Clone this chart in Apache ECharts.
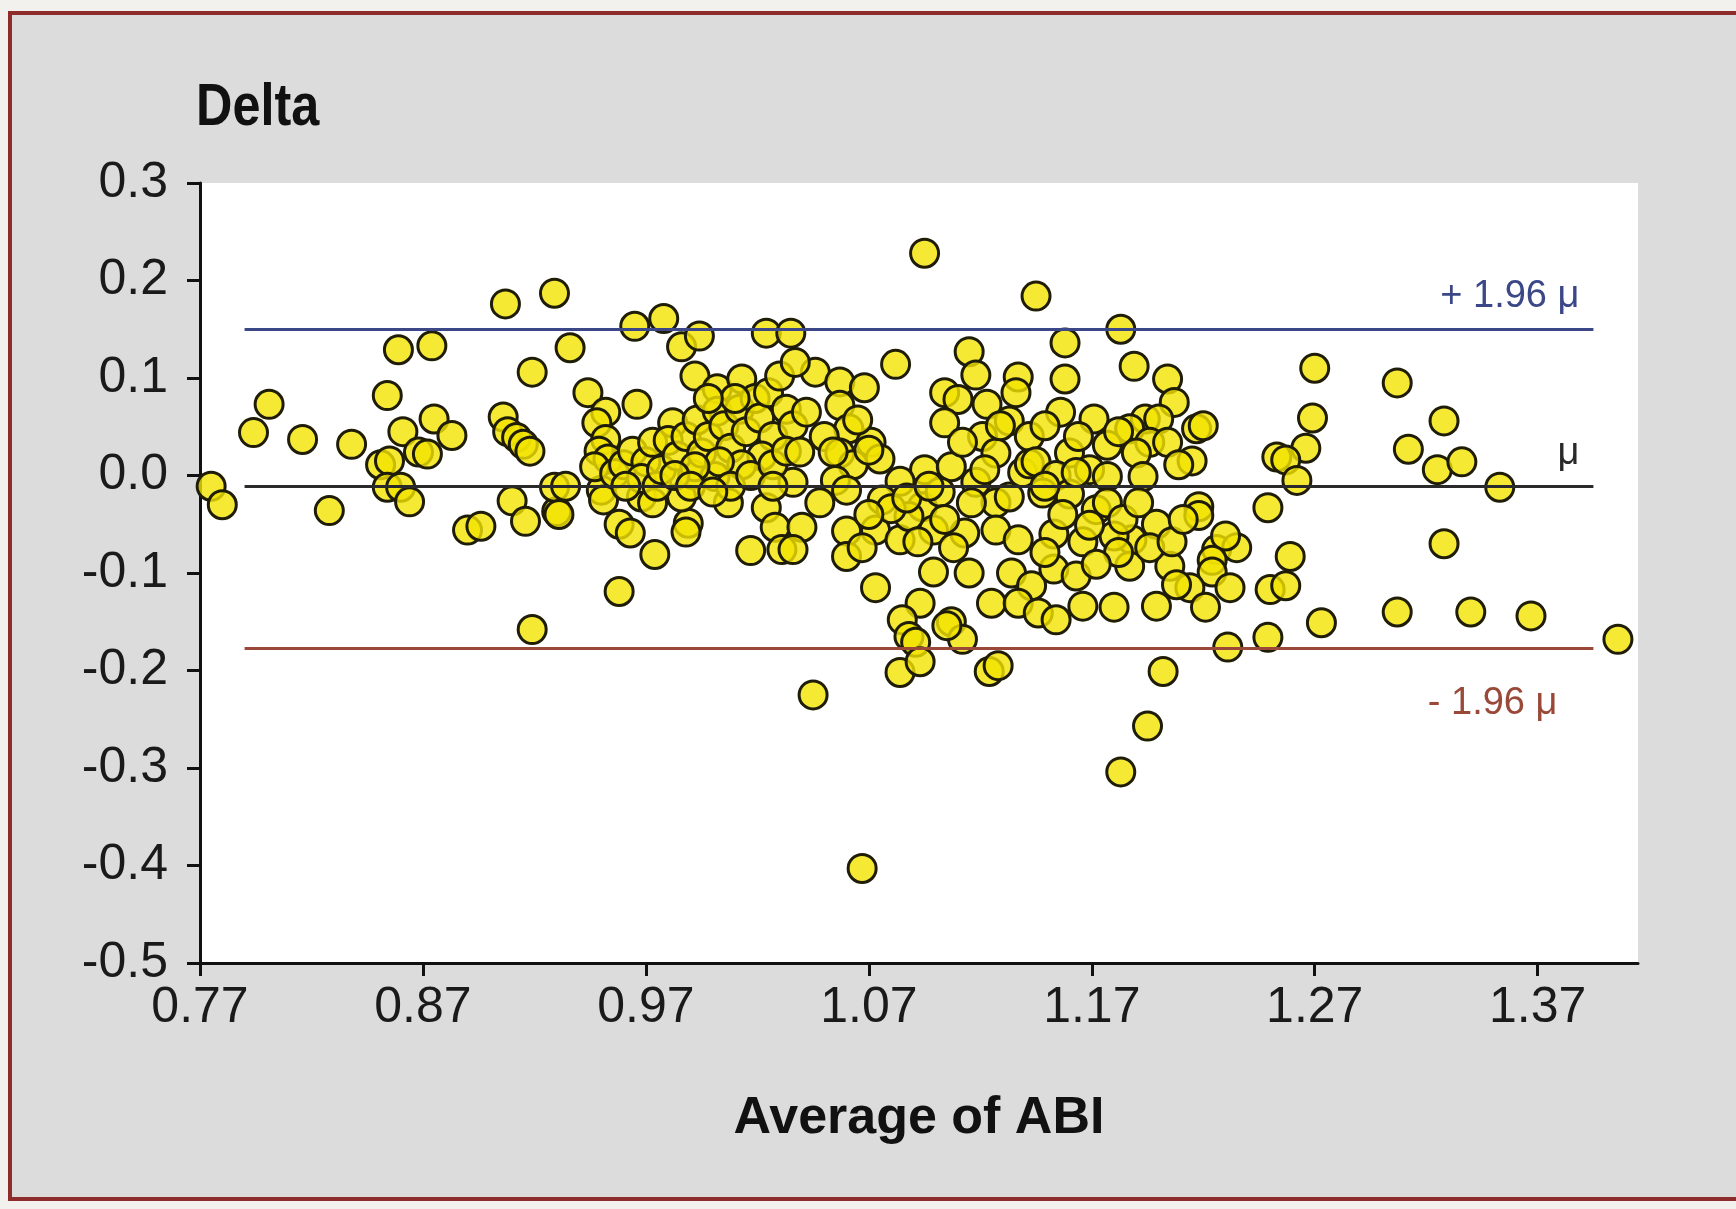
<!DOCTYPE html>
<html>
<head>
<meta charset="utf-8">
<title>Delta vs Average of ABI</title>
<script src="https://cdn.jsdelivr.net/npm/echarts/dist/echarts.min.js"></script>
<style>
  html, body { margin: 0; padding: 0; overflow: hidden; background: #f3f1ee; }
  #frame {
    position: absolute; left: 8px; top: 11px;
    width: 1800px; height: 1182px;
    border: 4px solid #8e2b2b; background: #dcdcdc;
  }
  #chart { position: absolute; left: 0; top: 0; width: 1736px; height: 1209px; }
</style>
</head>
<body>
<div id="frame"></div>
<div id="chart"></div>
<script>
// average of the two ABI measurements (x) and their difference (y)
const abiAverage = [
  0.775, 0.780, 0.794, 0.801, 0.816, 0.828, 0.838, 0.854, 0.859, 0.874,
  0.851, 0.855, 0.861, 0.875, 0.883, 0.868, 0.872, 0.854, 0.860, 0.864,
  0.907, 0.919, 0.929, 0.906, 0.908, 0.912, 0.915, 0.918, 0.910, 0.916,
  0.890, 0.896, 0.930, 0.919, 0.929,
  0.936, 0.965, 0.978, 0.986, 0.994, 0.992, 1.002, 1.013, 1.024, 1.035,
  0.944, 0.966, 0.952, 0.982,
  0.934, 0.931, 0.958, 0.963, 0.974, 0.958, 0.989, 0.988, 1.007, 1.024,
  1.028, 1.031, 1.017, 0.950, 0.951, 0.968, 0.973, 0.986, 0.991, 1.001, 1.036,
  0.948, 0.952, 0.949, 0.953, 0.947, 0.956, 0.960, 0.964, 0.970, 0.968,
  0.975, 0.961, 0.977, 0.973,
  0.980, 0.984, 0.988, 0.993, 0.995, 0.998, 1.002, 1.005, 1.008, 1.012,
  1.015, 1.019, 1.021, 1.025, 1.027, 1.030, 1.033, 1.036, 1.022, 1.013,
  1.003, 0.992, 0.983, 1.008, 1.017, 1.027, 1.033, 0.990, 1.000, 1.027,
  1.010, 0.998,
  1.095, 1.145, 1.082, 1.115, 1.118, 1.104, 1.110, 1.104, 1.123, 1.137,
  1.136, 1.133, 1.142, 1.046, 1.057, 1.068, 1.042, 1.057, 1.061, 1.071,
  1.037, 1.050, 1.065, 1.057, 1.075, 1.063,
  1.039, 1.054, 1.070, 1.095, 1.084, 1.055, 1.060, 1.048, 1.040, 1.036,
  1.060, 1.060, 1.073, 1.076, 1.073, 1.084, 1.094, 1.099, 1.088, 1.099,
  1.113, 1.115, 1.107, 1.118, 1.127, 1.133, 1.139, 1.142, 1.127, 1.137,
  1.134, 1.143, 1.125, 1.137, 1.093, 1.085, 1.088, 1.091, 1.107, 1.112,
  1.105, 1.084, 1.093, 1.124, 1.128, 1.045,
  1.080, 1.087, 1.102, 1.104, 1.092, 1.070, 1.067, 1.108, 1.097, 1.116,
  1.183, 1.158, 1.158, 1.189, 1.204, 1.207, 1.156, 1.171, 1.194, 1.200,
  1.187, 1.217, 1.220, 1.177, 1.160, 1.196, 1.215, 1.145, 1.253,
  1.149, 1.164, 1.182, 1.190, 1.204, 1.209, 1.169, 1.154,
  1.218, 1.218, 1.249, 1.199, 1.188, 1.153, 1.160, 1.148, 1.177, 1.193,
  1.163, 1.172, 1.180, 1.166, 1.187, 1.205, 1.226, 1.235, 1.230, 1.224,
  1.224, 1.232, 1.214, 1.208, 1.221, 1.199, 1.180, 1.166, 1.153, 1.163,
  1.146, 1.154, 1.231, 1.249, 1.202, 1.250,
  1.157, 1.169, 1.177, 1.184, 1.191, 1.196, 1.182, 1.172, 1.206, 1.149, 1.211,
  1.121, 1.127, 1.112, 1.129, 1.149, 1.122,
  1.270, 1.307, 1.269, 1.328, 1.266, 1.312, 1.325, 1.336, 1.353, 1.328,
  1.273, 1.307, 1.340, 1.367, 1.406, 1.259, 1.257, 1.257, 1.262,
  1.067, 1.183, 1.195
];
const delta = [
  -0.011, -0.030, 0.044, 0.073, 0.037, -0.036, 0.032, 0.082, 0.129, 0.133,
  0.011, 0.015, 0.045, 0.058, 0.041, 0.024, 0.022, -0.012, -0.012, -0.027,
  0.176, 0.106, 0.187, 0.060, 0.045, 0.039, 0.032, 0.025, -0.026, -0.047,
  -0.056, -0.052, -0.037, -0.158, -0.012,
  0.131, 0.153, 0.161, 0.132, 0.143, 0.102, 0.089, 0.099, 0.146, 0.146,
  0.085, 0.073, 0.065, 0.054,
  -0.011, -0.040, -0.050, -0.059, -0.081, -0.119, -0.049, -0.058, -0.028, -0.033,
  -0.053, -0.076, -0.077, -0.015, -0.025, -0.022, -0.028, -0.022, 0.001, -0.001, -0.007,
  0.054, 0.037, 0.025, 0.017, 0.009, 0.002, 0.011, 0.025, 0.014, -0.003,
  -0.011, -0.011, 0.006, 0.034,
  0.036, 0.020, 0.040, 0.057, 0.023, 0.040, 0.066, 0.051, 0.028, 0.068,
  0.045, 0.079, 0.059, 0.085, 0.040, 0.102, 0.068, 0.051, 0.020, 0.011,
  0.014, 0.009, 0.000, -0.011, 0.000, 0.011, 0.025, -0.011, -0.017, -0.011,
  0.079, 0.079,
  0.228, 0.184, 0.114, 0.127, 0.103, 0.085, 0.078, 0.054, 0.073, 0.101,
  0.085, 0.056, 0.040, 0.106, 0.096, 0.090, 0.065, 0.072, 0.048, 0.034,
  0.116, 0.040, 0.057, 0.023, 0.017, 0.011,
  0.024, 0.024, 0.026, 0.006, -0.006, -0.005, -0.015, -0.028, -0.053, -0.076,
  -0.057, -0.083, -0.115, -0.025, -0.056, -0.066, -0.032, -0.056, -0.042, -0.099,
  -0.059, -0.100, 0.009, -0.007, -0.028, -0.022, 0.003, 0.012, -0.056, -0.066,
  -0.100, -0.113, -0.131, -0.131, -0.131, -0.148, -0.165, -0.171, -0.150, -0.168,
  -0.154, -0.202, -0.191, -0.201, -0.195, -0.225,
  -0.034, -0.023, -0.017, -0.045, -0.068, -0.040, -0.074, -0.074, -0.011, -0.028,
  0.150, 0.136, 0.099, 0.112, 0.099, 0.075, 0.065, 0.058, 0.058, 0.058,
  0.048, 0.048, 0.051, 0.031, 0.023, 0.034, 0.015, 0.014, 0.019,
  0.051, 0.040, 0.045, 0.023, 0.034, 0.011, 0.006, 0.000,
  -0.032, -0.041, -0.033, -0.050, -0.066, -0.060, -0.019, -0.018, -0.001, -0.001,
  0.003, -0.035, -0.062, -0.068, -0.093, -0.093, -0.076, -0.074, -0.062, -0.087,
  -0.099, -0.115, -0.115, -0.112, -0.135, -0.134, -0.135, -0.134, -0.096, -0.103,
  -0.141, -0.148, -0.176, -0.166, -0.201, -0.117,
  -0.040, -0.051, -0.028, -0.045, -0.028, -0.074, -0.079, -0.091, -0.068, -0.079, -0.045,
  0.040, 0.023, 0.034, 0.051, -0.011, 0.006,
  0.110, 0.095, 0.059, 0.056, 0.028, 0.027, 0.006, 0.014, -0.012, -0.070,
  -0.151, -0.140, -0.140, -0.144, -0.168, -0.083, -0.113, 0.016, -0.005,
  -0.403, -0.304, -0.257
];

// mean difference and limits of agreement
const limitNames = ['+ 1.96 \u03bc', '\u03bc', '- 1.96 \u03bc'];
const limitValues = [0.150, -0.011, -0.177];
const limitColors = ['#3c4787', '#2a2a2a', '#9a4838'];

const xTickValues = [0.77, 0.87, 0.97, 1.07, 1.17, 1.27, 1.37];

const lineStart = 0.79;
const lineEnd = 1.395;
const font = '"Liberation Sans Narrow", "Liberation Sans", Arial, sans-serif';

const myChart = echarts.init(document.getElementById('chart'));

const points = abiAverage.map((x, i) => [x, delta[i]]);

myChart.setOption({
  animation: false,
  backgroundColor: 'transparent',
  grid: {
    left: 200, right: 98, top: 183, bottom: 246,
    show: true, backgroundColor: '#ffffff', borderWidth: 0
  },
  graphic: [{
    type: 'text', left: 196, top: 78, scaleX: 0.84,
    style: {text: 'Delta', font: 'bold 60px ' + font, fill: '#111'}
  }],
  xAxis: {
    type: 'value', min: 0.77, max: 1.415,
    name: 'Average of ABI', nameLocation: 'middle', nameGap: 130,
    nameTextStyle: {fontFamily: font, fontWeight: 'bold', fontSize: 52, color: '#111'},
    splitLine: {show: false},
    axisLine: {onZero: false, lineStyle: {color: '#111', width: 3}},
    axisTick: {customValues: xTickValues, length: 13, lineStyle: {color: '#111', width: 3}},
    axisLabel: {
      customValues: xTickValues, margin: 20,
      fontFamily: font, fontSize: 50, color: '#1a1a1a',
      formatter: v => v.toFixed(2)
    }
  },
  yAxis: {
    type: 'value', min: -0.5, max: 0.3, interval: 0.1,
    splitLine: {show: false},
    axisLine: {show: true, onZero: false, lineStyle: {color: '#111', width: 3}},
    axisTick: {show: true, length: 13, lineStyle: {color: '#111', width: 3}},
    axisLabel: {
      margin: 32, fontFamily: font, fontSize: 50, color: '#1a1a1a',
      formatter: v => v.toFixed(1)
    }
  },
  series: [
    {
      type: 'scatter',
      data: points,
      symbol: 'circle',
      symbolSize: 28,
      itemStyle: {color: 'rgba(243,228,0,0.8)', borderColor: '#1f1d08', borderWidth: 3, opacity: 1},
      z: 2
    },
    {
      type: 'scatter',
      data: [],
      z: 3,
      silent: true,
      markLine: {
        silent: true,
        symbol: ['none', 'none'],
        data: limitValues.map((v, i) => [
          {
            coord: [lineStart, v],
            lineStyle: {color: limitColors[i], width: 3, type: 'solid'},
            label: {
              show: true,
              position: i === 2 ? 'insideEndBottom' : 'insideEndTop',
              distance: i === 2 ? 36 : 14,
              formatter: limitNames[i],
              fontFamily: font, fontSize: 38, color: limitColors[i]
            }
          },
          {coord: [lineEnd, v]}
        ])
      }
    }
  ]
});
</script>
</body>
</html>
